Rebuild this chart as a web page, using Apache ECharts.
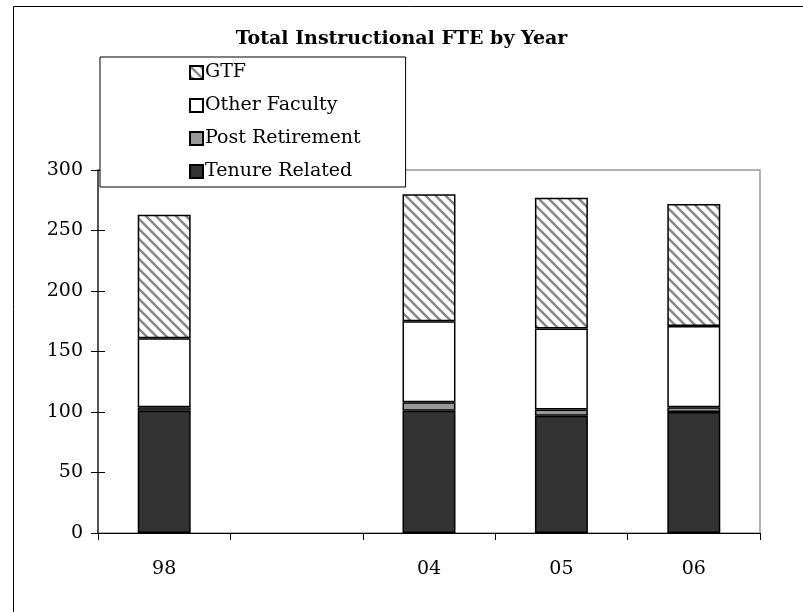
<!DOCTYPE html>
<html>
<head>
<meta charset="utf-8">
<script src="https://cdn.jsdelivr.net/npm/echarts@6/dist/echarts.min.js"></script>
<style>
    html, body { margin: 0; padding: 0; background: #fff; }
    #chart { width: 803px; height: 612px; }
</style>
</head>
<body>
<div id="chart"></div>
<script>
// chart data
const years = ['98', '', '04', '05', '06'];
const tenureRelated = [101, null, 101, 97, 100];
const postRetirement = [3, null, 7, 5, 4];
const otherFaculty = [57, null, 67, 67, 67];
const gtf = [102, null, 105, 108, 101];
const yTicks = [0, 50, 100, 150, 200, 250, 300];

var chart = echarts.init(document.getElementById('chart'));

// diagonal hatch for the GTF bars
function makeHatch() {
    let c = document.createElement('canvas');
    c.width = 10;
    c.height = 10;
    let ctx = c.getContext('2d');
    ctx.fillStyle = '#fff';
    ctx.fillRect(0, 0, 10, 10);
    ctx.strokeStyle = '#888';
    ctx.lineWidth = 2.5;
    ctx.beginPath();
    ctx.moveTo(-2, -2); ctx.lineTo(12, 12);
    ctx.moveTo(-2, 8); ctx.lineTo(2, 12);
    ctx.moveTo(8, -2); ctx.lineTo(12, 2);
    ctx.stroke();
    return c;
}
const hatch = {image: makeHatch(), repeat: 'repeat'};

const font = 'DejaVu Serif';
const barStyle = (color) => ({
    color: color,
    borderColor: '#000',
    borderWidth: 1.5
});

var option = {
    animation: false,
    backgroundColor: '#fff',
    textStyle: {fontFamily: font, color: '#000'},
    title: {
        text: 'Total Instructional FTE by Year',
        left: 'center',
        top: 25,
        textStyle: {fontFamily: font, fontSize: 19, fontWeight: 'bold', color: '#000'}
    },
    graphic: [
        {
            type: 'rect',
            shape: {x: 13.5, y: 6.5, width: 800, height: 620},
            style: {fill: null, stroke: '#000', lineWidth: 1},
            silent: true
        }
    ],
    legend: {
        data: ['GTF', 'Other Faculty', 'Post Retirement', 'Tenure Related'],
        orient: 'vertical',
        left: 100,
        top: 57,
        icon: 'rect',
        itemWidth: 13,
        itemHeight: 13,
        itemGap: 14,
        padding: [6, 45, 6, 89],
        borderColor: '#000',
        borderWidth: 1,
        backgroundColor: '#fff',
        align: 'left',
        z: 10,
        textStyle: {fontFamily: font, fontSize: 19, color: '#000', padding: [0, 0, 0, -3]}
    },
    grid: {
        left: 98,
        top: 170,
        width: 662,
        height: 363,
        show: true,
        borderColor: '#999',
        borderWidth: 1.5,
        backgroundColor: 'transparent'
    },
    xAxis: {
        type: 'category',
        data: years,
        axisLine: {lineStyle: {color: '#000', width: 1}},
        axisTick: {show: true, interval: 0, length: 7, lineStyle: {color: '#000'}},
        axisLabel: {interval: 0, margin: 27, fontSize: 19, color: '#000', fontFamily: font},
        splitLine: {show: false}
    },
    yAxis: [
        {
            type: 'value',
            min: yTicks[0],
            max: yTicks[yTicks.length - 1],
            interval: 50,
            axisLine: {show: true, lineStyle: {color: '#333', width: 1.5}},
            axisTick: {show: true, length: 7, lineStyle: {color: '#000'}},
            axisLabel: {margin: 15, fontSize: 19, color: '#000', fontFamily: font},
            splitLine: {show: false}
        },
        {
            type: 'value',
            position: 'left',
            min: yTicks[0],
            max: yTicks[yTicks.length - 1],
            interval: 50,
            axisLine: {show: false},
            axisTick: {show: true, inside: true, length: 7, lineStyle: {color: '#000'}},
            axisLabel: {show: false},
            splitLine: {show: false}
        }
    ],
    series: [
        {name: 'Tenure Related', type: 'bar', stack: 'fte', barWidth: '40%', data: tenureRelated, itemStyle: barStyle('#333333')},
        {name: 'Post Retirement', type: 'bar', stack: 'fte', data: postRetirement, itemStyle: barStyle('#999999')},
        {name: 'Other Faculty', type: 'bar', stack: 'fte', data: otherFaculty, itemStyle: barStyle('#ffffff')},
        {name: 'GTF', type: 'bar', stack: 'fte', data: gtf, itemStyle: barStyle(hatch)}
    ]
};

chart.setOption(option);
</script>
</body>
</html>
